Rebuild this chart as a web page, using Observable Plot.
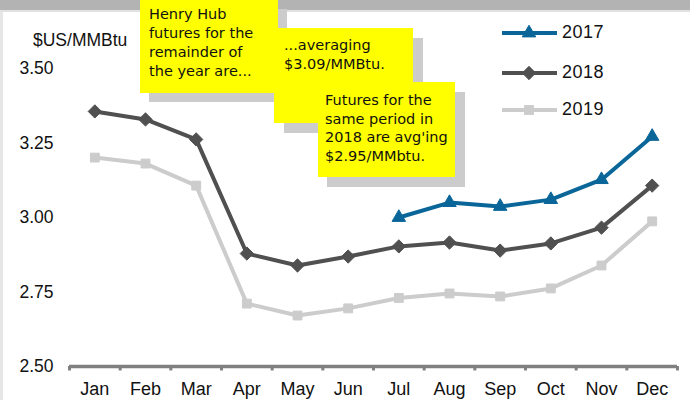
<!DOCTYPE html>
<html>
<head>
<meta charset="utf-8">
<script src="https://cdn.jsdelivr.net/npm/d3@7"></script>
<script src="https://cdn.jsdelivr.net/npm/@observablehq/plot@0.6"></script>
<style>
  html, body { margin: 0; padding: 0; background: #fff; }
  #wrap { position: relative; width: 690px; height: 400px; overflow: hidden; font-family: "Liberation Sans", Arial, sans-serif; }
  #topband { position: absolute; left: 0; top: 0; width: 690px; height: 10px; background: #b3b3b3; border-bottom: 2px solid #e2e2e2; }
  #leftband { position: absolute; left: 0; top: 12px; width: 3px; height: 388px; background: #e6e6e6; }
  .note { position: absolute; background: #ffff00; color: #111; font-family: "Comic Sans MS", "DejaVu Sans", sans-serif; font-size: 14.5px; line-height: 19px; box-sizing: border-box; white-space: nowrap; }
  .shadow { position: absolute; background: #cccccc; }
  #ytitle { position: absolute; left: 33px; top: 30px; font-size: 17.5px; color: #111; }
  .leg { position: absolute; left: 500px; width: 140px; height: 24px; }
  .leg span { position: absolute; left: 62px; top: 1px; font-size: 18px; color: #111; letter-spacing: 0.5px; }
</style>
</head>
<body>
<div id="wrap">
  <div id="topband"></div>
  <div id="leftband"></div>
  <div id="chart" style="position:absolute;left:0;top:0;"></div>
  <div id="ytitle">$US/MMBtu</div>
  <div id="legend"></div>
  <div class="shadow" style="left:149px;top:9px;width:138px;height:93px;"></div>
  <div class="note" style="left:140px;top:0px;width:138px;height:93px;padding:5px 0 0 9px;">Henry Hub<br>futures for the<br>remainder of<br>the year are...</div>
  <div class="shadow" style="left:284px;top:38px;width:139px;height:95px;"></div>
  <div class="note" style="left:274px;top:28px;width:139px;height:95px;padding:8px 0 0 10px;">...averaging<br>$3.09/MMBtu.</div>
  <div class="shadow" style="left:327px;top:92px;width:138px;height:95px;"></div>
  <div class="note" style="left:318px;top:82px;width:137px;height:95px;padding:9px 0 0 7px;line-height:18.5px;">Futures for the<br>same period in<br>2018 are avg'ing<br>$2.95/MMbtu.</div>
</div>
<script>
const months = ["Jan","Feb","Mar","Apr","May","Jun","Jul","Aug","Sep","Oct","Nov","Dec"];
const seriesNames = ["2017","2018","2019"];
const seriesColors = ["#0a6699","#505050","#cccccc"];
const seriesSymbols = ["triangle","diamond2","square"];
const values2017 = [null,null,null,null,null,null,3.000,3.050,3.037,3.060,3.127,3.272];
const values2018 = [3.356,3.329,3.262,2.879,2.839,2.869,2.903,2.916,2.889,2.913,2.966,3.107];
const values2019 = [3.201,3.181,3.107,2.711,2.671,2.695,2.730,2.745,2.735,2.762,2.839,2.987];
const yTicks = [2.50, 2.75, 3.00, 3.25, 3.50];

const allValues = [values2017, values2018, values2019];
const data = [];
allValues.forEach((vals, s) => vals.forEach((v, i) => {
  if (v != null) data.push({series: seriesNames[s], i, v});
}));

const boundaries = d3.range(months.length + 1).map(i => i - 0.5);

const marks = [
  Plot.axisY({ticks: yTicks, tickSize: 0, tickPadding: 16, tickFormat: d => d.toFixed(2), label: null, fontSize: 17.5, fill: "#111"}),
  Plot.axisX({ticks: d3.range(months.length), tickSize: 0, tickPadding: 16, tickFormat: i => months[i], label: null, fontSize: 18, fill: "#111"}),
  Plot.ruleY([2.5], {stroke: "#808080", strokeWidth: 3.5}),
  Plot.ruleX(boundaries, {y1: 2.5, y2: 2.485, stroke: "#808080", strokeWidth: 3}),
];
seriesNames.forEach((name, s) => {
  const d = data.filter(r => r.series === name);
  marks.push(Plot.line(d, {x: "i", y: "v", stroke: seriesColors[s], strokeWidth: 4}));
  marks.push(Plot.dot(d, {x: "i", y: "v", fill: seriesColors[s], stroke: seriesColors[s], strokeWidth: 1, symbol: seriesSymbols[s], r: s === 1 ? 6 : 5}));
});

const chart = Plot.plot({
  width: 690,
  height: 400,
  marginLeft: 69,
  marginRight: 13,
  marginTop: 68,
  marginBottom: 34,
  style: {fontFamily: "'Liberation Sans', Arial, sans-serif", background: "transparent", overflow: "visible"},
  x: {domain: [-0.5, months.length - 0.5]},
  y: {domain: [2.5, 3.5]},
  marks
});
document.getElementById("chart").appendChild(chart);

// legend
const legend = document.getElementById("legend");
const legendTops = [21, 61, 98];
const symbolTypes = {triangle: d3.symbolTriangle, diamond2: d3.symbolDiamond2, square: d3.symbolSquare};
seriesNames.forEach((name, s) => {
  const div = document.createElement("div");
  div.className = "leg";
  div.style.top = legendTops[s] + "px";
  const sym = d3.symbol(symbolTypes[seriesSymbols[s]], s === 1 ? 113 : 79)();
  div.innerHTML = `<svg width="60" height="24" style="position:absolute;left:0;top:0;overflow:visible">
    <line x1="2" x2="57" y1="12" y2="12" stroke="${seriesColors[s]}" stroke-width="4"/>
    <path transform="translate(29,12)" d="${sym}" fill="${seriesColors[s]}" stroke="${seriesColors[s]}"/>
  </svg><span>${name}</span>`;
  legend.appendChild(div);
});
</script>
</body>
</html>
